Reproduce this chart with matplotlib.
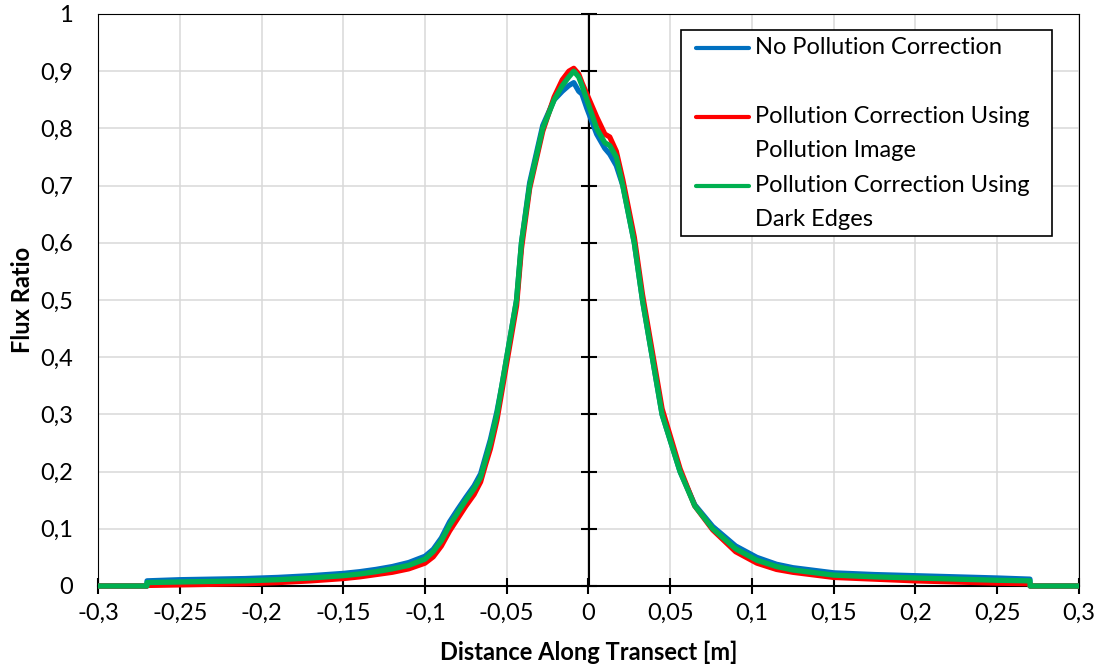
import numpy as np
import matplotlib
matplotlib.use('Agg')
from matplotlib import pyplot as plt
from matplotlib.ticker import FuncFormatter
from matplotlib.patches import Rectangle

plt.rcParams['font.family'] = ['Lato', 'DejaVu Sans']

# distancia a lo largo del transecto [m]
x_m = [-0.3, -0.2701, -0.27, -0.25, -0.23, -0.21, -0.19, -0.17, -0.15, -0.14,
       -0.13, -0.12, -0.11, -0.10, -0.095, -0.09, -0.085, -0.08, -0.075, -0.07,
       -0.066, -0.063, -0.06, -0.056, -0.053, -0.05, -0.047, -0.044, -0.041,
       -0.036, -0.028, -0.021, -0.016, -0.012, -0.009, -0.006, -0.004, -0.001,
       0.005, 0.01, 0.013, 0.017, 0.021, 0.028, 0.033, 0.039, 0.045, 0.056,
       0.065, 0.076, 0.09, 0.103, 0.115, 0.125, 0.15, 0.175, 0.2, 0.225, 0.25,
       0.27, 0.2701, 0.3]

sin_correccion = [0, 0, 0.009, 0.011, 0.012, 0.013, 0.015, 0.018, 0.022, 0.025,
                  0.029, 0.034, 0.041, 0.052, 0.064, 0.084, 0.112, 0.134,
                  0.155, 0.175, 0.196, 0.226, 0.256, 0.305, 0.35, 0.40, 0.45,
                  0.50, 0.60, 0.705, 0.805, 0.85, 0.865, 0.875, 0.88, 0.865,
                  0.86, 0.835, 0.79, 0.765, 0.755, 0.735, 0.70, 0.60, 0.50,
                  0.40, 0.30, 0.20, 0.142, 0.104, 0.07, 0.05, 0.038, 0.032,
                  0.023, 0.02, 0.018, 0.016, 0.014, 0.012, 0, 0]

corr_imagen = [0, 0, 0.001, 0.002, 0.003, 0.004, 0.006, 0.009, 0.013, 0.016,
               0.02, 0.024, 0.03, 0.04, 0.051, 0.07, 0.096, 0.118, 0.14,
               0.16, 0.182, 0.212, 0.24, 0.29, 0.34, 0.39, 0.44, 0.49, 0.59,
               0.695, 0.795, 0.855, 0.885, 0.9, 0.905, 0.895, 0.88, 0.86,
               0.82, 0.79, 0.785, 0.76, 0.71, 0.61, 0.51, 0.41, 0.31, 0.205,
               0.14, 0.098, 0.06, 0.04, 0.029, 0.024, 0.015, 0.012, 0.009,
               0.007, 0.005, 0.004, 0, 0]

corr_bordes = [0, 0, 0.006, 0.007, 0.008, 0.009, 0.011, 0.014, 0.018, 0.021,
               0.025, 0.030, 0.036, 0.047, 0.06, 0.079, 0.106, 0.128, 0.15,
               0.17, 0.19, 0.22, 0.25, 0.30, 0.35, 0.40, 0.45, 0.50, 0.60,
               0.70, 0.80, 0.85, 0.875, 0.89, 0.90, 0.89, 0.875, 0.85, 0.80,
               0.775, 0.77, 0.75, 0.70, 0.60, 0.50, 0.40, 0.30, 0.20, 0.14,
               0.10, 0.065, 0.045, 0.034, 0.028, 0.019, 0.016, 0.014, 0.012,
               0.010, 0.009, 0, 0]

etiquetas = [['No Pollution Correction'],
             ['Pollution Correction Using', 'Pollution Image'],
             ['Pollution Correction Using', 'Dark Edges']]
colores = ['#0070C0', '#FF0000', '#00B050']

xticks = np.arange(-0.3, 0.3001, 0.05)
yticks = np.arange(0, 1.0001, 0.1)


def coma(v, pos):
    if abs(v) < 1e-9:
        return '0'
    return '{0:g}'.format(round(v, 2)).replace('.', ',')


fig = plt.figure(figsize=(11.04, 6.72), dpi=100)
ax = fig.add_axes([98 / 1104, 86 / 672, 981 / 1104, 572 / 672])

series = [sin_correccion, corr_imagen, corr_bordes]
for y, c in zip(series, colores):
    ax.plot(x_m, y, color=c, lw=3.8, zorder=3, clip_on=False,
            solid_joinstyle='round', solid_capstyle='butt')

ax.set_xlim(-0.3, 0.3)
ax.set_ylim(0, 1)
ax.set_xticks(xticks)
ax.set_yticks(yticks)
ax.xaxis.set_major_formatter(FuncFormatter(coma))
ax.yaxis.set_major_formatter(FuncFormatter(coma))
ax.grid(True, color='#D9D9D9', lw=1.1, zorder=0)
ax.set_axisbelow(True)

for s in ['left', 'top', 'right']:
    ax.spines[s].set_linewidth(0.8)
ax.spines['bottom'].set_linewidth(1.5)
ax.spines['bottom'].set_zorder(2)

ax.tick_params(axis='x', direction='inout', length=12, width=1.5,
               labelsize=17, pad=6)
ax.tick_params(axis='y', length=0, labelsize=17, pad=18)

# eje vertical en x = 0 con sus marcas
ax.axvline(0, color='k', lw=1.5, zorder=2)
ax.plot(np.zeros_like(yticks), yticks, ls='none', marker='_', ms=12,
        mew=1.5, color='k', zorder=2, clip_on=False)

ax.set_xlabel('Distance Along Transect [m]', fontsize=17, fontweight='bold',
              labelpad=12)
ax.set_ylabel('Flux Ratio', fontsize=17, fontweight='bold', labelpad=4)

# leyenda a mano (estilo Excel)
ax.add_patch(Rectangle((0.594, 0.612), 0.3785, 0.36, transform=ax.transAxes,
                       facecolor='white', edgecolor='k', lw=1.2, zorder=5))
y0 = 0.9406
paso = 0.0583
for lab, c in zip(etiquetas, colores):
    ax.plot([0.6096, 0.6636], [y0, y0], color=c, lw=3, transform=ax.transAxes,
            zorder=6, solid_capstyle='round')
    for k, t in enumerate(lab):
        ax.text(0.6697, y0 - k * paso, t, transform=ax.transAxes, fontsize=17,
                va='center', ha='left', zorder=6)
    y0 -= 2 * paso + 0.004

fig.savefig('out.png', dpi=100)
